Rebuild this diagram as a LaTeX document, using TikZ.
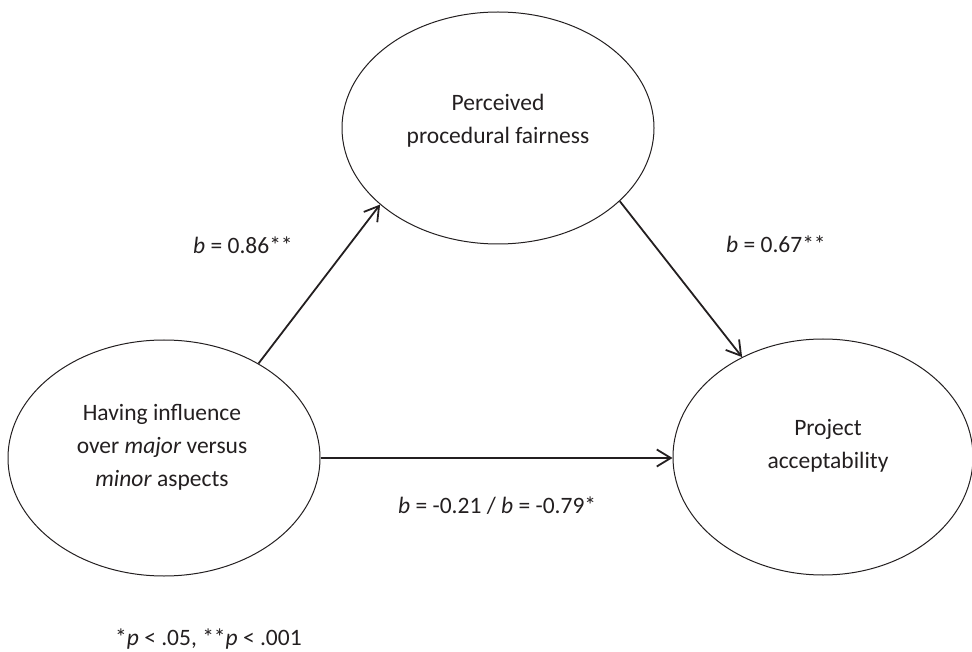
\documentclass[tikz,border=0pt]{standalone}
\usepackage{fontspec}
\setmainfont{Carlito}
\usetikzlibrary{shapes.geometric,arrows.meta}
\definecolor{ink}{HTML}{231F20}
\begin{document}
\begin{tikzpicture}[x=1pt,y=-1pt,
  ellip/.style={draw=ink, line width=1pt, ellipse, inner sep=0pt},
  txt/.style={text=ink, font=\fontsize{23.5}{33}\selectfont, align=center, inner sep=0pt},
  lab/.style={text=ink, font=\fontsize{23.5}{33}\selectfont, inner sep=0pt, anchor=base west},
  conn/.style={draw=ink, line width=1.8pt, -{Straight Barb[length=14pt,width=17pt,line width=1.8pt]}}]
\useasboundingbox (0,0) rectangle (972,652);
\node[ellip, minimum width=312pt, minimum height=232pt] (fair) at (498,128) {};
\node[ellip, minimum width=312pt, minimum height=236pt] (infl) at (164,458) {};
\node[ellip, minimum width=300pt, minimum height=236pt] (acc) at (823,457) {};
\node[txt] (fairtxt) at (498,120.5) {Perceived\\procedural fairness};
\node[txt] (infltxt) at (162,447.5) {Having influence\\over \textit{major} versus\\\textit{minor} aspects};
\node[txt] (acctxt) at (828,445.5) {Project\\acceptability};
\draw[conn] (infl.45) -- (fair.213.6);
\draw[conn] (fair.329.6) -- (acc.129);
\draw[conn] (infl.east) -- (infl.east -| acc.west);
\node[lab] (l1) at (193,254) {\textit{b} = 0.86**};
\node[lab] (l2) at (726,253) {\textit{b} = 0.67**};
\node[lab] (l3) at (398,513) {\textit{b} = -0.21 / \textit{b} = -0.79*};
\node[lab] (note) at (115,645) {*\textit{p} < .05, **\textit{p} < .001};
\end{tikzpicture}
\end{document}
